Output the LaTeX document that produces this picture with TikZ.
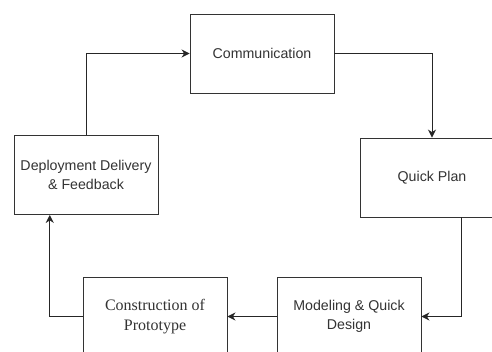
\documentclass[tikz,border=0pt]{standalone}
\usepackage{fontspec}
\newfontfamily\sansf{Liberation Sans}
\newfontfamily\seriff{Liberation Serif}
\usetikzlibrary{arrows.meta,calc}
\tikzset{
  box/.style={draw=black!80, line width=0.9pt, rectangle, minimum width=144pt, minimum height=79pt, inner sep=0pt, align=center, text=black!80},
  sanslabel/.style={font=\sansf\fontsize{14.2}{19}\selectfont},
  seriflabel/.style={font=\seriff\fontsize{16}{20}\selectfont},
  arr/.style={draw=black!85, line width=0.9pt, -{Stealth[length=8pt,width=8pt]}}
}
\begin{document}
\begin{tikzpicture}[x=1pt,y=-1pt]
\useasboundingbox (0,0) rectangle (492,351);
\clip (0,0) rectangle (492,351);
\fill[white] (0,0) rectangle (492,351);
\node[box,sanslabel] (com) at (262,53.5) {Communication};
\node[box,sanslabel] (dep) at (86,175) {Deployment Delivery\\\& Feedback};
\node[box,sanslabel] (qp) at (432,177.5) {Quick Plan};
\node[box,seriflabel] (con) at (155,316.5) {Construction of\\Prototype};
\node[box,sanslabel] (mod) at (349,316.5) {Modeling \& Quick\\Design};
\coordinate (qpout) at ($(qp.south west)!0.7!(qp.south east)$);
\coordinate (depin) at ($(dep.south west)!0.25!(dep.south east)$);
\draw[arr] (dep.north) |- (com.west);
\draw[arr] (com.east) -| (qp.north);
\draw[arr] (qpout) |- (mod.east);
\draw[arr] (mod.west) -- (con.east);
\draw[arr] (con.west) -| (depin);
\end{tikzpicture}
\end{document}
